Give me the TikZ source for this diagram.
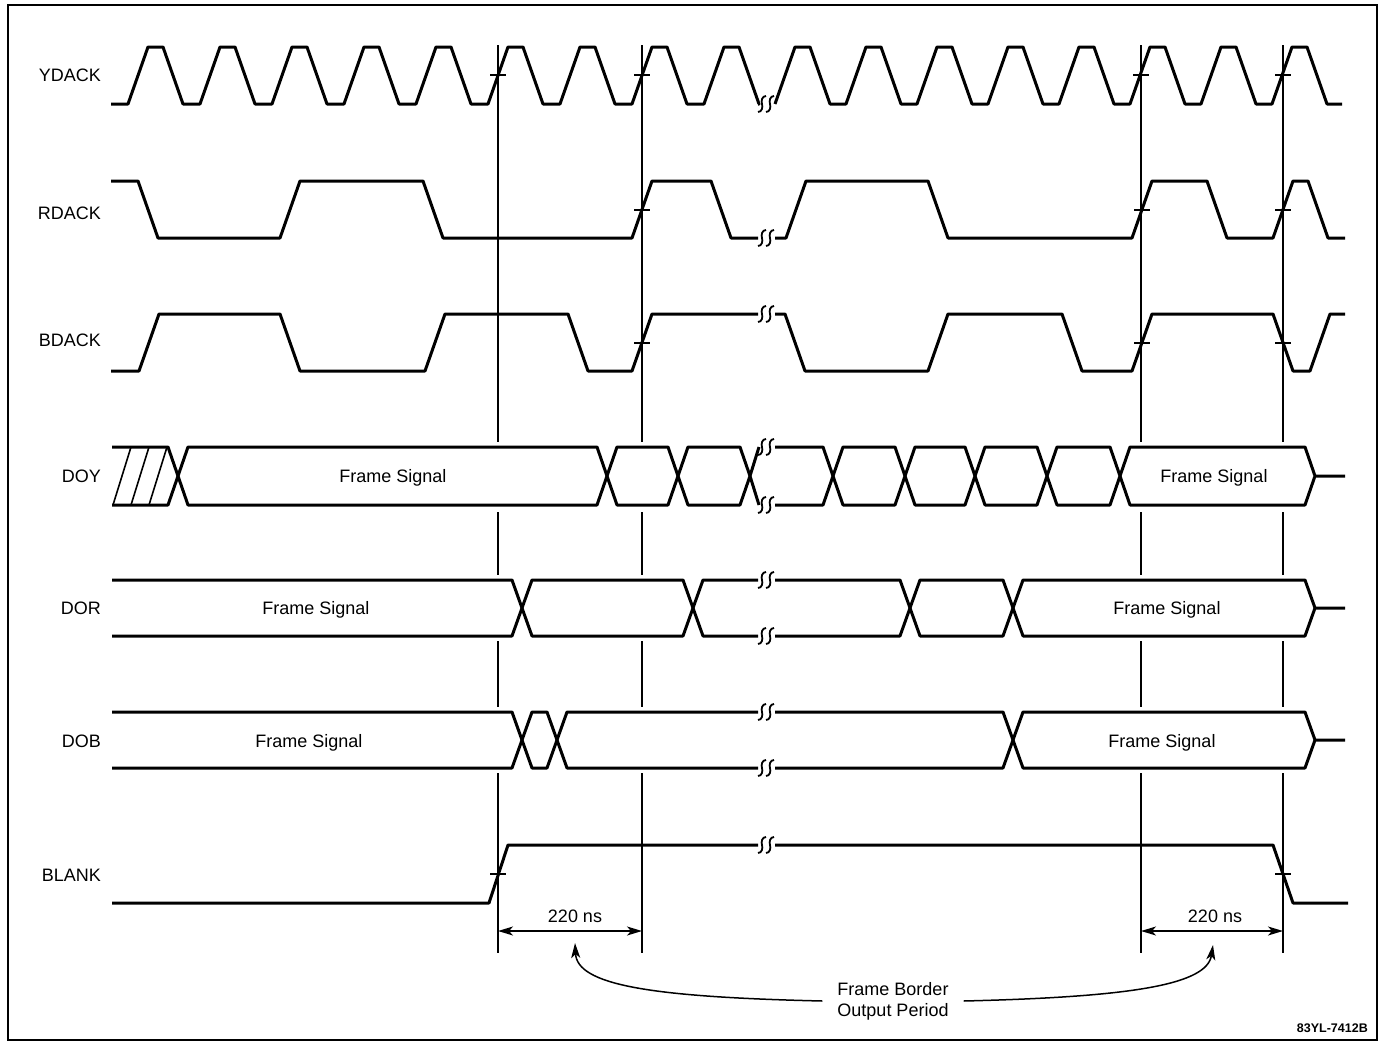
\documentclass[tikz,border=0pt]{standalone}
\usepackage{fontspec}
\setmainfont{Liberation Sans}
\usetikzlibrary{arrows.meta}

\tikzset{
  sigline/.style={line width=3pt, line join=round},
  refline/.style={line width=1.2pt},
  tickmark/.style={line width=1.6pt},
  breakmark/.style={line width=1.8pt},
  lbl/.style={font=\fontsize{18}{21}\selectfont, inner sep=0pt, text height=13pt, text depth=0pt},
  dimline/.style={line width=1.3pt, {Stealth[length=15pt,width=9pt,inset=4pt]}-{Stealth[length=15pt,width=9pt,inset=4pt]}},
  leadline/.style={line width=1.5pt, -{Stealth[length=15pt,width=9pt,inset=4pt]}},
}

% the small double break mark on a line at height #1
\newcommand{\sigbreak}[1]{%
  \foreach \bx in {762,770}
    \draw[breakmark] (\bx-4,#1+8) .. controls (\bx,#1+8) and (\bx+1,#1+3) .. (\bx,#1)
                     .. controls (\bx-1,#1-3) and (\bx,#1-8) .. (\bx+4,#1-8);}

\begin{document}
\begin{tikzpicture}[x=1pt,y=-1pt]
    \useasboundingbox (0,0) rectangle (1382,1044);
    \draw[line width=2pt] (8,5) rectangle (1377,1040);

    % row names
    \node[lbl,anchor=east] (ydack) at (101,75) {YDACK};
    \node[lbl,anchor=east] (rdack) at (101,213) {RDACK};
    \node[lbl,anchor=east] (bdack) at (101,340) {BDACK};
    \node[lbl,anchor=east] (doy) at (101,476) {DOY};
    \node[lbl,anchor=east] (dor) at (101,608) {DOR};
    \node[lbl,anchor=east] (dob) at (101,741) {DOB};
    \node[lbl,anchor=east] (blank) at (101,875) {BLANK};

    % reference lines
    \foreach \x in {498,642,1141,1283}
        \draw[refline] (\x,45) -- (\x,442) (\x,512) -- (\x,575) (\x,641) -- (\x,707) (\x,773) -- (\x,953);

    % YDACK
    \draw[sigline] (111,104) \foreach \t in {148,220,...,724} { -- (\t-20,104) -- (\t,47) -- (\t+15,47) -- (\t+35,104) } -- (758,104);
    \draw[sigline] (775,104) \foreach \t in {795,866,...,1292} { -- (\t-20,104) -- (\t,47) -- (\t+15,47) -- (\t+35,104) } -- (1342,104);
    \sigbreak{104}

    % RDACK
    \draw[sigline] (111,181) -- (138,181) -- (158,238) -- (280,238) -- (300,181) -- (423,181) -- (443,238) -- (632,238)
        -- (652,181) -- (711,181) -- (731,238) -- (758,238);
    \draw[sigline] (775,238) -- (786,238) -- (806,181) -- (928,181) -- (948,238) -- (1132,238) -- (1152,181) -- (1207,181)
        -- (1227,238) -- (1273,238) -- (1293,181) -- (1308,181) -- (1328,238) -- (1345,238);
    \sigbreak{238}

    % BDACK
    \draw[sigline] (111,371) -- (139,371) -- (159,314) -- (280,314) -- (300,371) -- (425,371) -- (445,314) -- (568,314)
        -- (588,371) -- (632,371) -- (652,314) -- (758,314);
    \draw[sigline] (775,314) -- (785,314) -- (805,371) -- (928,371) -- (948,314) -- (1062,314) -- (1082,371) -- (1132,371)
        -- (1152,314) -- (1273,314) -- (1293,371) -- (1310,371) -- (1330,314) -- (1345,314);
    \sigbreak{314}

    % DOY
    \draw[sigline] (112,447) -- (168,447) -- (178,476) -- (168,505) -- (112,505);
    \foreach \h in {113,131,149}
        \draw[tickmark] (\h,505) -- (\h+18,447);
    \foreach \a/\b in {178/607,607/678,678/750,833/905,905/975,975/1047,1047/1120}
        \draw[sigline] (\a,476) -- (\a+10,447) -- (\b-10,447) -- (\b,476) -- (\b-10,505) -- (\a+10,505) -- cycle;
    \draw[sigline] (759,447) -- (750,476) -- (759,505);
    \draw[sigline] (775,447) -- (823,447) -- (833,476) -- (823,505) -- (775,505);
    \draw[sigline] (1345,476) -- (1315,476) -- (1305,447) -- (1130,447) -- (1120,476) -- (1130,505) -- (1305,505) -- (1315,476);
    \sigbreak{447}
    \sigbreak{505}
    \node[lbl] (doyfa) at (393,476) {Frame Signal};
    \node[lbl] (doyfb) at (1214,476) {Frame Signal};

    % DOR
    \draw[sigline] (112,580) -- (512,580) -- (522,608) -- (512,636) -- (112,636);
    \foreach \a/\b in {522/693,910/1013}
        \draw[sigline] (\a,608) -- (\a+10,580) -- (\b-10,580) -- (\b,608) -- (\b-10,636) -- (\a+10,636) -- cycle;
    \draw[sigline] (758,580) -- (703,580) -- (693,608) -- (703,636) -- (758,636);
    \draw[sigline] (775,580) -- (900,580) -- (910,608) -- (900,636) -- (775,636);
    \draw[sigline] (1345,608) -- (1315,608) -- (1305,580) -- (1023,580) -- (1013,608) -- (1023,636) -- (1305,636) -- (1315,608);
    \sigbreak{580}
    \sigbreak{636}
    \node[lbl] (dorfa) at (316,608) {Frame Signal};
    \node[lbl] (dorfb) at (1167,608) {Frame Signal};

    % DOB
    \draw[sigline] (112,712) -- (512,712) -- (522,740) -- (512,768) -- (112,768);
    \draw[sigline] (522,740) -- (532,712) -- (547,712) -- (557,740) -- (547,768) -- (532,768) -- cycle;
    \draw[sigline] (758,712) -- (567,712) -- (557,740) -- (567,768) -- (758,768);
    \draw[sigline] (775,712) -- (1003,712) -- (1013,740) -- (1003,768) -- (775,768);
    \draw[sigline] (1345,740) -- (1315,740) -- (1305,712) -- (1023,712) -- (1013,740) -- (1023,768) -- (1305,768) -- (1315,740);
    \sigbreak{712}
    \sigbreak{768}
    \node[lbl] (dobfa) at (309,741) {Frame Signal};
    \node[lbl] (dobfb) at (1162,741) {Frame Signal};

    % BLANK
    \draw[sigline] (112,903) -- (489,903) -- (508,845) -- (758,845);
    \draw[sigline] (775,845) -- (1273,845) -- (1293,903) -- (1348,903);
    \sigbreak{845}

    % crossing ticks
    \foreach \x/\y in {498/75,642/75,1141/75,1283/75,642/210,1142/210,1283/210,642/343,1142/343,1283/343,498/874,1283/874}
        \draw[tickmark] (\x-8,\y) -- (\x+8,\y);

    % 220 ns spans
    \coordinate (va) at (498,931);
    \coordinate (vb) at (642,931);
    \coordinate (vc) at (1141,931);
    \coordinate (vd) at (1283,931);
    \draw[dimline] (va) -- (vb);
    \draw[dimline] (vc) -- (vd);
    \node[lbl] (nsa) at (575,916) {220 ns};
    \node[lbl] (nsb) at (1215,916) {220 ns};

    % frame border note
    \coordinate (ta) at (575,943);
    \coordinate (tb) at (1213,945);
    \node[font=\fontsize{18}{21}\selectfont, align=center, inner xsep=15pt, inner ysep=0pt] (fbop) at (893,1001) {Frame Border\\Output Period};
    \draw[leadline] (fbop.west) .. controls (650,997) and (577,985) .. (ta);
    \draw[leadline] (fbop.east) .. controls (1130,997) and (1207,985) .. (tb);

    \node[font=\fontsize{12.5}{14}\selectfont\bfseries, anchor=east, inner sep=0pt] (figid) at (1368,1028) {83YL-7412B};
\end{tikzpicture}
\end{document}
